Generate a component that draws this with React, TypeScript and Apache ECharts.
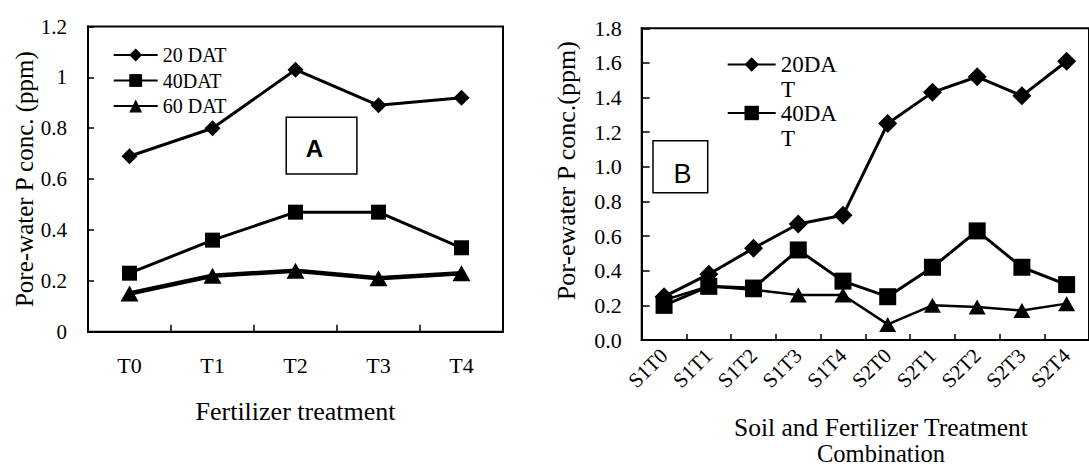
import React, { useEffect, useRef } from 'react';
import * as echarts from 'echarts';

// ---- Data ----
const treatmentsA = ['T0', 'T1', 'T2', 'T3', 'T4'];
const a20 = [0.69, 0.80, 1.03, 0.89, 0.92];
const a40 = [0.23, 0.36, 0.47, 0.47, 0.33];
const a60 = [0.15, 0.22, 0.24, 0.21, 0.23];

const combosB = ['S1T0', 'S1T1', 'S1T2', 'S1T3', 'S1T4', 'S2T0', 'S2T1', 'S2T2', 'S2T3', 'S2T4'];
const b20 = [0.25, 0.38, 0.53, 0.67, 0.72, 1.25, 1.43, 1.52, 1.41, 1.61];
const b40 = [0.20, 0.31, 0.30, 0.52, 0.34, 0.25, 0.42, 0.63, 0.42, 0.32];
const b60 = [0.23, 0.31, 0.29, 0.26, 0.26, 0.09, 0.20, 0.19, 0.17, 0.21];

const namesA = ['20 DAT', '40DAT', '60 DAT'];
const namesB = ['20DAT', '40DAT', '60DAT'];

const SERIF = 'Liberation Serif';
const SANS = 'Liberation Sans';
const BLACK = '#000';

function lineSeries(name: string, data: number[], idx: number, symbol: string, size: any, width: number) {
  return {
    type: 'line',
    name,
    data,
    xAxisIndex: idx,
    yAxisIndex: idx,
    symbol,
    symbolSize: size,
    showAllSymbol: true,
    lineStyle: { color: BLACK, width },
    itemStyle: { color: BLACK },
    emphasis: { disabled: true },
    silent: true,
  };
}

export default function App() {
  const ref = useRef<HTMLDivElement>(null);

  useEffect(() => {
    if (!ref.current) return;
    const chart = echarts.init(ref.current, undefined, { renderer: 'svg' });
    const axisLine = { show: true, lineStyle: { color: BLACK, width: 2 } };
    // legend of panel B: the names wrap in the reference ("20DA" / "T")
    const legendB = (name: string, top: number) => ({
      orient: 'vertical', left: 726.7, top, padding: 0,
      itemWidth: 48, itemHeight: 18, selectedMode: false,
      data: [name],
      formatter: (n: string) => n.slice(0, 4),
      textStyle: { color: BLACK, fontFamily: SERIF, fontSize: 23, lineHeight: 23 },
    });
    const wrapTail = (name: string, y: number) => ({
      type: 'text', x: 781, y,
      style: { text: name.slice(4), fontFamily: SERIF, fontSize: 23, fill: BLACK, align: 'left', verticalAlign: 'middle' },
    });
    const option: any = {
      animation: false,
      backgroundColor: '#fff',
      grid: [
        { left: 88, top: 26.5, width: 415, height: 305.2, show: true, borderColor: BLACK, borderWidth: 2, backgroundColor: 'transparent' },
        { left: 641.7, top: 28.3, width: 457.5, height: 311.7, show: true, borderColor: BLACK, borderWidth: 2, backgroundColor: 'transparent' },
      ],
      xAxis: [
        {
          type: 'category', gridIndex: 0, data: treatmentsA, boundaryGap: true,
          axisLine,
          axisTick: { show: true, inside: true, length: 7, lineStyle: { color: BLACK, width: 1.5 } },
          axisLabel: { color: BLACK, fontFamily: SERIF, fontSize: 22, margin: 23, interval: 0 },
          name: 'Fertilizer treatment', nameLocation: 'middle', nameGap: 67,
          nameTextStyle: { color: BLACK, fontFamily: SERIF, fontSize: 26 },
        },
        {
          type: 'category', gridIndex: 1, data: combosB, boundaryGap: true,
          axisLine,
          axisTick: { show: true, inside: true, length: 6, lineStyle: { color: BLACK, width: 1.5 } },
          axisLabel: { color: BLACK, fontFamily: SERIF, fontSize: 21, margin: 12, rotate: 45, interval: 0 },
        },
      ],
      yAxis: [
        {
          type: 'value', gridIndex: 0, min: 0, max: 1.2, interval: 0.2,
          axisLine,
          axisTick: { show: true, inside: true, length: 6, lineStyle: { color: BLACK, width: 1.5 } },
          splitLine: { show: false },
          axisLabel: { color: BLACK, fontFamily: SERIF, fontSize: 21, margin: 21 },
          name: 'Pore-water P conc. (ppm)', nameLocation: 'middle', nameGap: 50, nameRotate: 90,
          nameTextStyle: { color: BLACK, fontFamily: SERIF, fontSize: 25 },
        },
        {
          type: 'value', gridIndex: 1, min: 0, max: 1.8, interval: 0.2,
          axisLine,
          axisTick: { show: true, inside: true, length: 8, lineStyle: { color: BLACK, width: 1.5 } },
          splitLine: { show: false },
          axisLabel: { color: BLACK, fontFamily: SERIF, fontSize: 22, margin: 20, formatter: (v: number) => v.toFixed(1) },
        },
      ],
      legend: [
        {
          orient: 'vertical', left: 112.7, top: 45, padding: 0, itemGap: 5.5,
          itemWidth: 44, itemHeight: 16, selectedMode: false,
          data: namesA,
          textStyle: { color: BLACK, fontFamily: SERIF, fontSize: 20, lineHeight: 20 },
        },
        legendB(namesB[0], 53),
        legendB(namesB[1], 101.5),
      ],
      series: [
        lineSeries(namesA[0], a20, 0, 'diamond', [16, 16], 3),
        lineSeries(namesA[1], a40, 0, 'rect', [15, 15], 3),
        lineSeries(namesA[2], a60, 0, 'triangle', [18, 16], 4.5),
        lineSeries(namesB[2], b60, 1, 'triangle', [17, 15], 2.5),
        lineSeries(namesB[1], b40, 1, 'rect', [17, 17], 3),
        lineSeries(namesB[0], b20, 1, 'diamond', [19, 19], 3),
      ],
      graphic: [
        { type: 'rect', shape: { x: 286.2, y: 117.3, width: 70.7, height: 56.7 }, style: { fill: '#fff', stroke: BLACK, lineWidth: 1.5 } },
        { type: 'text', x: 314.5, y: 148, style: { text: 'A', fontFamily: SANS, fontWeight: 'bold', fontSize: 24, fill: BLACK, align: 'center', verticalAlign: 'middle' } },
        { type: 'rect', shape: { x: 653, y: 140.7, width: 54.7, height: 52 }, style: { fill: '#fff', stroke: BLACK, lineWidth: 1.5 } },
        { type: 'text', x: 682.5, y: 174, style: { text: 'B', fontFamily: SANS, fontSize: 27, fill: BLACK, align: 'center', verticalAlign: 'middle' } },
        wrapTail(namesB[0], 89.5),
        wrapTail(namesB[1], 138),
        { type: 'text', x: 566, y: 170.7, rotation: Math.PI / 2, style: { text: 'Por-ewater P conc.(ppm)', fontFamily: SERIF, fontSize: 26, fill: BLACK, align: 'center', verticalAlign: 'middle' } },
        { type: 'text', x: 881, y: 427.5, style: { text: 'Soil and Fertilizer Treatment', fontFamily: SERIF, fontSize: 25.5, fill: BLACK, align: 'center', verticalAlign: 'middle' } },
        { type: 'text', x: 881, y: 453.5, style: { text: 'Combination', fontFamily: SERIF, fontSize: 24.5, fill: BLACK, align: 'center', verticalAlign: 'middle' } },
      ],
    };
    chart.setOption(option);
    return () => chart.dispose();
  }, []);

  return (
    <div
      ref={ref}
      style={{ position: 'fixed', left: 0, top: 0, width: 1089, height: 466, background: '#fff' }}
    />
  );
}
